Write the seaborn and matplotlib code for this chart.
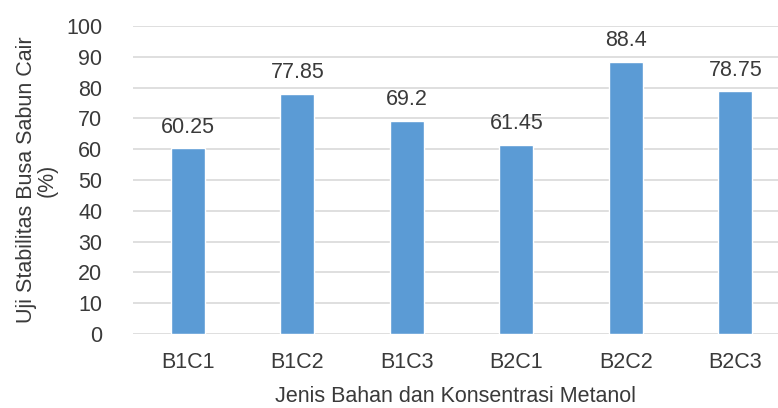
import matplotlib
matplotlib.use("Agg")
import matplotlib.pyplot as plt
import seaborn as sns
import pandas as pd

categories = ["B1C1", "B1C2", "B1C3", "B2C1", "B2C2", "B2C3"]
values = [60.25, 77.85, 69.2, 61.45, 88.4, 78.75]
value_labels = ["60.25", "77.85", "69.2", "61.45", "88.4", "78.75"]
yticks = [0, 10, 20, 30, 40, 50, 60, 70, 80, 90, 100]

df = pd.DataFrame({"kategori": categories, "nilai": values})

sns.set_style("white")
plt.rcParams["font.family"] = ["Liberation Sans", "DejaVu Sans"]
txt = "#3A3A3A"
fs = 15.5

fig = plt.figure(figsize=(7.78, 4.08), dpi=100)
ax = fig.add_axes([133 / 778, 74 / 408, 645 / 778, 308 / 408])

sns.barplot(data=df, x="kategori", y="nilai", color="#5B9BD5", saturation=1,
            width=0.31, ax=ax, zorder=3)

ax.set_ylim(0, 100)
ax.set_xlim(-0.5, 5.39)
ax.set_yticks(yticks)
ax.yaxis.grid(True, color="#D9D9D9", linewidth=1.2, zorder=0)
ax.set_axisbelow(True)
for s in ax.spines.values():
    s.set_visible(False)
ax.tick_params(axis="both", length=0, labelsize=fs, colors=txt)
ax.tick_params(axis="y", pad=22)
ax.tick_params(axis="x", pad=13)

for i, (v, lab) in enumerate(zip(values, value_labels)):
    ax.text(i, v + 3.5, lab, ha="center", va="bottom", fontsize=fs, color=txt)

ax.set_xlabel("Jenis Bahan dan Konsentrasi Metanol", fontsize=fs, color=txt, labelpad=9)
ax.set_ylabel("Uji Stabilitas Busa Sabun Cair\n(%)", fontsize=fs, color=txt,
              labelpad=6, linespacing=1.0)

fig.savefig("out.png", dpi=100)
